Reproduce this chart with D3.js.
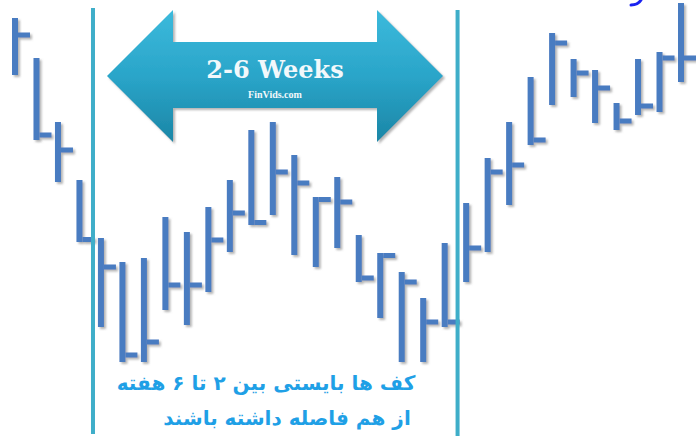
<!DOCTYPE html>
<html>
<head>
<meta charset="utf-8">
<script src="https://cdn.jsdelivr.net/npm/d3@7"></script>
<style>
  html, body { margin: 0; padding: 0; background: #fff; }
  svg { display: block; }
</style>
</head>
<body>
<div id="chart"></div>
<script>
// Price bars (price units = pixels up from the bottom edge)
const barIndex = d3.range(1, 33);
const highs  = [418, 378, 314, 256, 198, 174, 178, 219, 204, 229, 256, 306, 314, 281, 239, 259, 201, 183, 164, 138, 193, 233, 278, 314, 359, 403, 377, 366, 333, 377, 384, 433];
const lows   = [361, 296, 254, 194, 109,  74,  74, 126, 111, 144, 184, 211, 221, 181, 169, 188, 154, 118,  74,  74, 109, 154, 184, 231, 291, 331, 339, 313, 306, 321, 324, 354];
const closes = [401, 301, 286, 196, 169,  81,  94, 151, 151, 196, 223, 213, 264, 253, 237, 234, 158, 181, 154, 114, 114, 188, 264, 271, 296, 393, 363, 348, 315, 330, 378, 378];
// Vertical markers (bar positions) bounding the 2-6 week window
const markers = [4.63, 21.6];
const arrowTitle = "2-6 Weeks";
const arrowSub = "FinVids.com";
const noteLines = ["کف ها بایستی بین ۲ تا ۶ هفته", "از هم فاصله داشته باشند"];

const data = barIndex.map((i, k) => ({i, high: highs[k], low: lows[k], close: closes[k]}));

const width = 696, height = 436;

const svg = d3.select("#chart").append("svg")
    .attr("width", width)
    .attr("height", height);

const defs = svg.append("defs");

// soft drop shadow like the original clip-art
const shadow = defs.append("filter").attr("id", "shadow")
    .attr("x", "-50%").attr("y", "-20%").attr("width", "200%").attr("height", "140%");
shadow.append("feDropShadow")
    .attr("dx", 2).attr("dy", 2).attr("stdDeviation", 1.3)
    .attr("flood-color", "#777").attr("flood-opacity", 0.55);

const grad = defs.append("linearGradient")
    .attr("id", "arrow-grad")
    .attr("x1", "0%").attr("y1", "0%").attr("x2", "0%").attr("y2", "100%");
grad.selectAll("stop")
    .data([
        {offset: "0%", color: "#3cbadc"},
        {offset: "50%", color: "#2aa5c9"},
        {offset: "100%", color: "#1b86a6"}
    ])
    .enter().append("stop")
    .attr("offset", d => d.offset)
    .attr("stop-color", d => d.color);

// scales
const x = d3.scaleLinear().domain([1, 32]).range([15, 681]);
const y = d3.scaleLinear().domain([0, 436]).range([436, 0]);

const barW = 6, tickLen = 12, tickH = 5;
const barColor = "#4a7bc1";

// double arrow
const ax0 = 107, ax1 = 443, hw = 66, shaftTop = 42, shaftBot = 108, headTop = 10, headBot = 142;
const cy = (headTop + headBot) / 2;
const arrowPts = [
    [ax0, cy], [ax0 + hw, headTop], [ax0 + hw, shaftTop], [ax1 - hw, shaftTop],
    [ax1 - hw, headTop], [ax1, cy], [ax1 - hw, headBot], [ax1 - hw, shaftBot],
    [ax0 + hw, shaftBot], [ax0 + hw, headBot]
];
svg.append("polygon")
    .attr("points", arrowPts.map(p => p.join(",")).join(" "))
    .attr("fill", "url(#arrow-grad)")
    .attr("filter", "url(#shadow)");

svg.append("text")
    .attr("x", (ax0 + ax1) / 2)
    .attr("y", 78)
    .attr("text-anchor", "middle")
    .attr("font-family", "'DejaVu Serif', 'Liberation Serif', serif")
    .attr("font-weight", "bold")
    .attr("font-size", 24)
    .attr("fill", "#f2f8fb")
    .text(arrowTitle);

svg.append("text")
    .attr("x", (ax0 + ax1) / 2)
    .attr("y", 98)
    .attr("text-anchor", "middle")
    .attr("font-family", "'Liberation Serif', serif")
    .attr("font-weight", "bold")
    .attr("font-size", 10)
    .attr("fill", "#f2f8fb")
    .text(arrowSub);

// bars
const bars = svg.append("g").attr("filter", "url(#shadow)");

bars.selectAll("rect.hl")
    .data(data)
    .enter().append("rect")
    .attr("class", "hl")
    .attr("x", d => x(d.i) - barW / 2)
    .attr("y", d => y(d.high))
    .attr("width", barW)
    .attr("height", d => y(d.low) - y(d.high))
    .attr("fill", barColor);

bars.selectAll("rect.close")
    .data(data)
    .enter().append("rect")
    .attr("class", "close")
    .attr("x", d => x(d.i) + barW / 2)
    .attr("y", d => Math.min(Math.max(y(d.close) - tickH / 2, y(d.high)), y(d.low) - tickH))
    .attr("width", tickLen)
    .attr("height", tickH)
    .attr("fill", barColor);

// vertical marker lines
svg.append("g").selectAll("rect")
    .data(markers)
    .enter().append("rect")
    .attr("x", d => x(d) - 2)
    .attr("y", (d, k) => k === 0 ? 8 : 10)
    .attr("width", 4)
    .attr("height", 426)
    .attr("fill", "#3faec9");

// note text (Persian)
svg.append("g").selectAll("text")
    .data(noteLines)
    .enter().append("text")
    .attr("x", (d, k) => k === 0 ? 266 : 287)
    .attr("y", (d, k) => 390 + k * 35)
    .attr("text-anchor", "middle")
    .attr("direction", "rtl")
    .attr("font-family", "'DejaVu Sans', 'Noto Sans', sans-serif")
    .attr("font-weight", "bold")
    .attr("font-size", 20)
    .attr("fill", "#1fa0e6")
    .text(d => d);

// fragment of cut-off heading at the top right
svg.append("path")
    .attr("d", "M631,5 Q638,5 641,0")
    .attr("fill", "none")
    .attr("stroke", "#1a22f0")
    .attr("stroke-width", 3)
    .attr("stroke-linecap", "round");
</script>
</body>
</html>
